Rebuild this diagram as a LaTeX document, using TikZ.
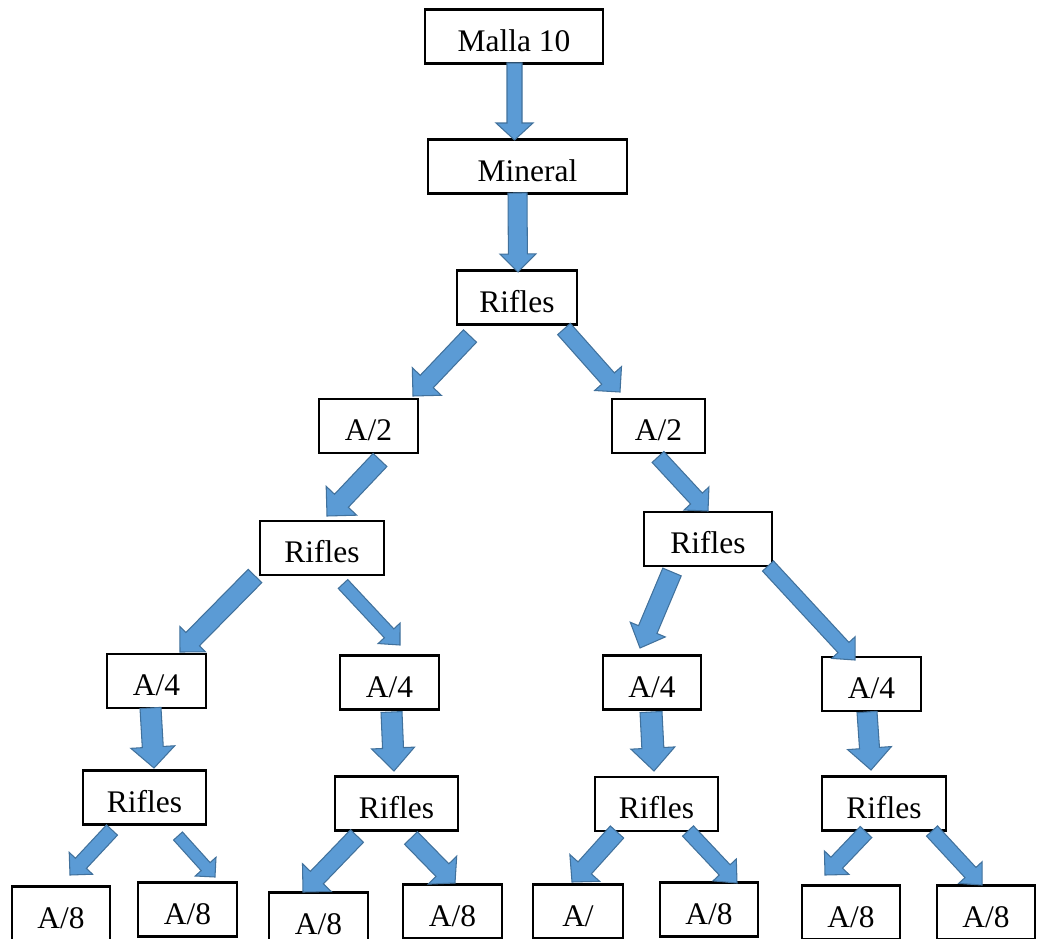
\documentclass[tikz,border=0pt]{standalone}
\usepackage{fontspec}
\setmainfont{Liberation Serif}
\usepackage{tikz}
\usetikzlibrary{calc}

\definecolor{arrowblue}{RGB}{91,155,213}
\definecolor{arrowedge}{RGB}{65,113,156}

% one unit of the grid below, as a length
\newcommand{\pxl}{0.569pt}

% fat block arrow: tail, tip, shaft half width, head half width, head length
\newcommand{\blockarrow}[5]{%
    \coordinate (hb) at ($(#2)!#5*\pxl!(#1)$);
    \draw[fatarrow] ($(#1)!#3*\pxl!90:(#2)$) -- ($(hb)!#3*\pxl!90:(#2)$) -- ($(hb)!#4*\pxl!90:(#2)$) -- (#2)
        -- ($(hb)!#4*\pxl!-90:(#2)$) -- ($(hb)!#3*\pxl!-90:(#2)$) -- ($(#1)!#3*\pxl!-90:(#2)$) -- cycle;
}

\begin{document}
\begin{tikzpicture}
    [
        x=0.02cm, y=-0.02cm,
        box/.style={rectangle, draw=black, line width=1.3pt, fill=white, minimum height=1.08cm, inner sep=0pt,
            text height=16.8pt, text depth=0pt, font=\fontsize{17.9}{21}\selectfont},
        fatarrow/.style={fill=arrowblue, draw=arrowedge, line width=0.6pt, line join=miter},
    ]
        \clip (0,0) rectangle (1037,939);

        % boxes, top to bottom
        \node[box, minimum width=3.56cm] (malla) at (514,36.5) {Malla 10};
        \node[box, minimum width=3.98cm] (mineral) at (527.5,166.5) {Mineral};
        \node[box, minimum width=2.40cm] (rifles0) at (517,297.5) {Rifles};
        \node[box, minimum width=1.98cm] (a2l) at (368.5,426) {A/2};
        \node[box, minimum width=1.86cm] (a2r) at (658.5,426) {A/2};
        \node[box, minimum width=2.48cm] (rifles1l) at (322,548) {Rifles};
        \node[box, minimum width=2.56cm] (rifles1r) at (708,539) {Rifles};
        \node[box, minimum width=1.98cm] (a4a) at (156.5,681) {A/4};
        \node[box, minimum width=1.98cm] (a4b) at (389.5,682.5) {A/4};
        \node[box, minimum width=1.96cm] (a4c) at (652,682.5) {A/4};
        \node[box, minimum width=1.98cm] (a4d) at (871.5,684) {A/4};
        \node[box, minimum width=2.46cm] (rifles2a) at (144.5,797.5) {Rifles};
        \node[box, minimum width=2.46cm] (rifles2b) at (396.5,803.5) {Rifles};
        \node[box, minimum width=2.46cm] (rifles2c) at (656.5,804) {Rifles};
        \node[box, minimum width=2.48cm] (rifles2d) at (884,803.5) {Rifles};
        \node[box, minimum width=1.96cm] (a8a) at (61,913.5) {A/8};
        \node[box, minimum width=1.98cm] (a8b) at (187.5,909.5) {A/8};
        \node[box, minimum width=1.98cm] (a8c) at (318.5,919.5) {A/8};
        \node[box, minimum width=1.98cm] (a8d) at (452.5,911.5) {A/8};
        \node[box, minimum width=1.80cm] (a8e) at (578,911.5) {A/};
        \node[box, minimum width=1.96cm] (a8f) at (709,909.5) {A/8};
        \node[box, minimum width=1.96cm] (a8g) at (851,912.5) {A/8};
        \node[box, minimum width=1.96cm] (a8h) at (986,912.5) {A/8};

        % tails and tips of the arrows
        \coordinate (malla-t) at (514.5,63);   \coordinate (malla-h) at (514.5,140);
        \coordinate (mineral-t) at (517.5,193); \coordinate (mineral-h) at (518,272);
        \coordinate (r0l-t) at (470,336);      \coordinate (r0l-h) at (413,396);
        \coordinate (r0r-t) at (564,329);      \coordinate (r0r-h) at (620,392);
        \coordinate (a2l-t) at (380,460);      \coordinate (a2l-h) at (327,516);
        \coordinate (a2r-t) at (658,457);      \coordinate (a2r-h) at (708,511);
        \coordinate (r1ll-t) at (255,576);     \coordinate (r1ll-h) at (180,652);
        \coordinate (r1lr-t) at (343,584);     \coordinate (r1lr-h) at (400,645);
        \coordinate (r1rl-t) at (672,572);     \coordinate (r1rl-h) at (640,648);
        \coordinate (r1rr-t) at (768,566);     \coordinate (r1rr-h) at (855,660);
        \coordinate (a4a-t) at (150.5,708);    \coordinate (a4a-h) at (154,768);
        \coordinate (a4b-t) at (391.5,712);    \coordinate (a4b-h) at (394,771);
        \coordinate (a4c-t) at (651,712);      \coordinate (a4c-h) at (654,771);
        \coordinate (a4d-t) at (867,712);      \coordinate (a4d-h) at (871,770);
        \coordinate (r2al-t) at (112,830);     \coordinate (r2al-h) at (70,875);
        \coordinate (r2ar-t) at (178,836);     \coordinate (r2ar-h) at (215,877);
        \coordinate (r2bl-t) at (357,836);     \coordinate (r2bl-h) at (303,892);
        \coordinate (r2br-t) at (411,838);     \coordinate (r2br-h) at (455,883);
        \coordinate (r2cl-t) at (617,832);     \coordinate (r2cl-h) at (572,882);
        \coordinate (r2cr-t) at (688,831);     \coordinate (r2cr-h) at (737,883);
        \coordinate (r2dl-t) at (866,832);     \coordinate (r2dl-h) at (825,875);
        \coordinate (r2dr-t) at (932,831);     \coordinate (r2dr-h) at (982,885);

        \blockarrow{malla-t}{malla-h}{7.5}{18.5}{17}
        \blockarrow{mineral-t}{mineral-h}{9.5}{18}{18}
        \blockarrow{r0l-t}{r0l-h}{9}{20}{20}
        \blockarrow{r0r-t}{r0r-h}{8.5}{18}{18}
        \blockarrow{a2l-t}{a2l-h}{9.5}{21}{21}
        \blockarrow{a2r-t}{a2r-h}{8}{17}{17}
        \blockarrow{r1ll-t}{r1ll-h}{9.5}{18}{18}
        \blockarrow{r1lr-t}{r1lr-h}{6.5}{15}{16}
        \blockarrow{r1rl-t}{r1rl-h}{10}{19}{20}
        \blockarrow{r1rr-t}{r1rr-h}{7.5}{16}{17}
        \blockarrow{a4a-t}{a4a-h}{10.5}{22}{21}
        \blockarrow{a4b-t}{a4b-h}{10.5}{21.5}{23}
        \blockarrow{a4c-t}{a4c-h}{11}{22}{23}
        \blockarrow{a4d-t}{a4d-h}{10}{22}{22}
        \blockarrow{r2al-t}{r2al-h}{7.5}{16}{16}
        \blockarrow{r2ar-t}{r2ar-h}{6}{14}{14}
        \blockarrow{r2bl-t}{r2bl-h}{9}{20}{20}
        \blockarrow{r2br-t}{r2br-h}{9}{20}{18}
        \blockarrow{r2cl-t}{r2cl-h}{9}{20}{19}
        \blockarrow{r2cr-t}{r2cr-h}{7.5}{16}{18}
        \blockarrow{r2dl-t}{r2dl-h}{8}{17}{17}
        \blockarrow{r2dr-t}{r2dr-h}{7.5}{16}{17}
    \end{tikzpicture}
\end{document}
